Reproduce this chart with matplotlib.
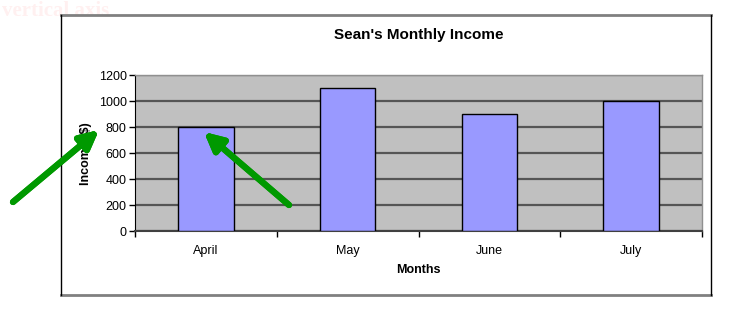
import matplotlib
matplotlib.use("Agg")
import matplotlib.pyplot as plt
from matplotlib.lines import Line2D
import numpy as np

months = ["April", "May", "June", "July"]
income = [800, 1100, 900, 1000]
y_ticks = [0, 200, 400, 600, 800, 1000, 1200]

plt.rcParams['font.family'] = ['Liberation Sans', 'DejaVu Sans']

W, H = 741, 327
fig = plt.figure(figsize=(W / 100, H / 100), dpi=100)
fig.patch.set_facecolor("white")

# faint background slide text
fig.text(2 / W, 1 - 1 / H, "vertical axis", fontsize=15, fontweight="bold",
         family="Liberation Serif", color="#fff0f0", va="top", ha="left", zorder=0)

# chart frame
fx0, fx1 = 61 / W, 710.5 / W
fy0, fy1 = 1 - 295 / H, 1 - 15 / H
fig.add_artist(Line2D([fx0, fx1], [fy1, fy1], color="#808080", lw=2, transform=fig.transFigure))
fig.add_artist(Line2D([fx0, fx1], [fy0, fy0], color="#808080", lw=2, transform=fig.transFigure))
fig.add_artist(Line2D([fx0, fx0], [fy0, fy1], color="black", lw=1, transform=fig.transFigure))
fig.add_artist(Line2D([fx1, fx1], [fy0, fy1], color="black", lw=1, transform=fig.transFigure))

ax = fig.add_axes([135 / W, 1 - 231 / H, (702 - 135) / W, (231 - 75.5) / H])
ax.set_facecolor("#c0c0c0")
x = np.arange(len(months))
ax.bar(x, income, width=0.39, color="#9999ff", edgecolor="black", linewidth=1, zorder=3)
ax.set_xlim(-0.5, len(months) - 0.5)
ax.set_ylim(0, 1200)
ax.set_yticks(y_ticks)
ax.yaxis.grid(True, color="#555555", linewidth=1.6, zorder=1)
ax.set_axisbelow(True)
ax.set_xticks(x)
ax.set_xticklabels(months, fontsize=9)
ax.set_xticks(np.arange(-0.5, len(months)), minor=True)
ax.tick_params(axis="x", which="major", length=0, pad=10)
ax.tick_params(axis="x", which="minor", length=4, direction="out", width=1)
ax.tick_params(axis="y", length=4, width=1, labelsize=9, pad=2)
for s in ["top", "right"]:
    ax.spines[s].set_color("#909090")
    ax.spines[s].set_linewidth(1)
ax.spines["left"].set_color("black")
ax.spines["bottom"].set_color("#404040")
ax.spines["bottom"].set_linewidth(1.5)

ax.set_title("Sean's Monthly Income", fontsize=11, fontweight="bold", pad=26)
ax.set_xlabel("Months", fontsize=9, fontweight="bold", labelpad=5)
ax.set_ylabel("Income ($)", fontsize=9, fontweight="bold", labelpad=5)

# green arrows
for (tx, ty), (hx, hy) in [((13, 202), (99, 130)), ((289, 205), (204, 132))]:
    fig.add_artist(plt.annotate("", xy=(hx, H - hy), xytext=(tx, H - ty),
                   xycoords="figure pixels", textcoords="figure pixels",
                   arrowprops=dict(arrowstyle="-|>,head_length=1.1,head_width=0.55",
                                   color="#009900", lw=4.5, capstyle="round",
                                   shrinkA=0, shrinkB=0)))

fig.savefig("out.png", dpi=100)
